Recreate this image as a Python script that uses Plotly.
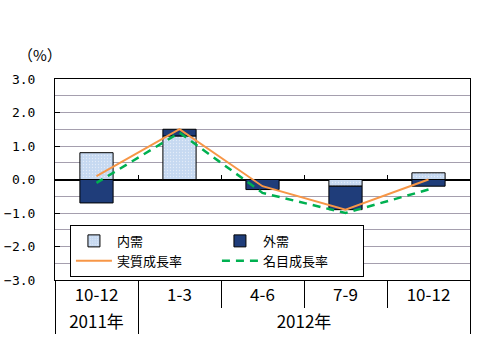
import plotly.graph_objects as go

years = ["2011年", "2012年", "2012年", "2012年", "2012年"]
quarters = ["10-12", "1-3", "4-6", "7-9", "10-12"]
domestic = [0.8, 1.3, 0.0, -0.2, 0.2]
external = [-0.7, 0.2, -0.3, -0.7, -0.2]
real_growth = [0.1, 1.5, -0.2, -0.9, 0.0]
nominal_growth = [-0.1, 1.4, -0.4, -1.0, -0.3]
y_ticks = [-3, -2, -1, 0, 1, 2, 3]

# Plotly orders multicategory items by first appearance of each level, so the
# series are fed newest-first and the category axis is reversed.
x = [years[::-1], quarters[::-1]]
mono = "DejaVu Sans Mono, Noto Sans CJK JP"
cjk = "Noto Sans CJK JP"

fig = go.Figure()
fig.add_trace(go.Bar(x=x, y=domestic[::-1], name="内需", width=0.4,
                     marker=dict(color="#c6d9f1", line=dict(color="black", width=1),
                                 pattern=dict(shape=".", fgcolor="#ffffff", size=3, solidity=0.15))))
fig.add_trace(go.Bar(x=x, y=external[::-1], name="外需", width=0.4,
                     marker=dict(color="#1f3d7a", line=dict(color="black", width=1))))
fig.add_trace(go.Scatter(x=x, y=real_growth[::-1], name="実質成長率", mode="lines",
                         line=dict(color="#f79646", width=2)))
fig.add_trace(go.Scatter(x=x, y=nominal_growth[::-1], name="名目成長率", mode="lines",
                         line=dict(color="#00b050", width=2.5, dash="8px,6px")))
# helper traces for the extra category tick marks (at zero, and below the axis)
fig.add_trace(go.Scatter(x=x, y=[None] * len(quarters), xaxis="x2", showlegend=False,
                         hoverinfo="skip", mode="lines"))
fig.add_trace(go.Scatter(x=x, y=[None] * len(quarters), xaxis="x3", showlegend=False,
                         hoverinfo="skip", mode="lines"))

fig.update_layout(
    width=477, height=343,
    margin=dict(l=55, r=7, t=79, b=63),
    paper_bgcolor="white", plot_bgcolor="white",
    barmode="relative",
    font=dict(family=cjk, size=14, color="black"),
    showlegend=True,
    legend=dict(orientation="h", x=0.036, y=0.274, xanchor="left", yanchor="top",
                bordercolor="black", borderwidth=1, bgcolor="white",
                entrywidth=95, entrywidthmode="pixels", itemwidth=36,
                font=dict(family=cjk, size=13), tracegroupgap=0,
                traceorder="normal"),
    xaxis=dict(type="multicategory", range=[4.5, -0.5], showline=True, linecolor="black",
               linewidth=1, mirror=True, ticks="", showdividers=True,
               dividercolor="black", dividerwidth=1, tickangle=0, automargin=False,
               tickfont=dict(family=cjk, size=17), showgrid=False),
    xaxis2=dict(type="multicategory", range=[4.5, -0.5], overlaying="x", anchor="free",
                position=0.5, ticks="inside", tickson="boundaries", ticklen=5,
                tickcolor="black", tickwidth=1, showticklabels=False, showline=False,
                showdividers=False, showgrid=False, automargin=False),
    xaxis3=dict(type="multicategory", range=[4.5, -0.5], overlaying="x", anchor="y",
                side="bottom", ticks="outside", tickson="boundaries", ticklen=27,
                tickcolor="black", tickwidth=1, showticklabels=False, showline=False,
                showdividers=False, showgrid=False, automargin=False),
    yaxis=dict(range=[-3, 3], tickvals=y_ticks, tickformat=".1f", ticks="inside",
               ticklen=5, tickcolor="black", showline=True, linecolor="black",
               linewidth=1, mirror=True, showgrid=True, gridcolor="#a59fae",
               gridwidth=1, zeroline=True, zerolinecolor="black", zerolinewidth=1.5,
               tickfont=dict(family=mono, size=13), ticklabelstandoff=16,
               automargin=False,
               minor=dict(dtick=0.5, showgrid=True, gridcolor="#a59fae", gridwidth=1)),
    annotations=[dict(text="（%）", xref="paper", yref="paper", x=-0.095, y=1.12,
                      xanchor="left", yanchor="middle", showarrow=False,
                      font=dict(family=cjk, size=15))],
)

fig.write_html("out.html")
